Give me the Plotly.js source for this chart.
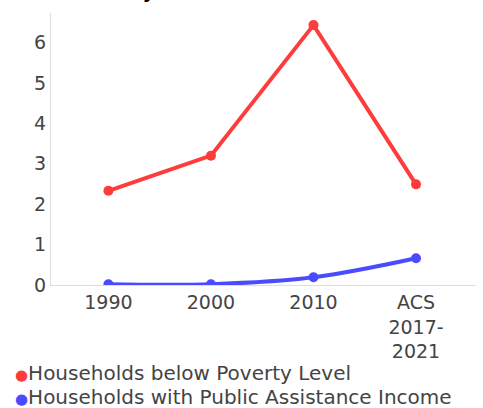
<!DOCTYPE html>
<html>
<head>
<meta charset="utf-8">
<script src="https://cdn.plot.ly/plotly-3.0.1.min.js"></script>
<style>html,body{margin:0;padding:0;background:#fff;}#chart{width:483px;height:408px;}</style>
</head>
<body>
<div id="chart"></div>
<script>
const categories = ['1990', '2000', '2010', 'ACS<br>2017-<br>2021'];
const povertyName = 'Households below Poverty Level';
const povertyValues = [2.33, 3.2, 6.43, 2.49];
const assistanceName = 'Households with Public Assistance Income';
const assistanceValues = [0.02, 0.02, 0.19, 0.66];
const yTicks = [0, 1, 2, 3, 4, 5, 6];

const red = '#ff3c3c';
const blue = '#4a4aff';
const textColor = '#444';
const fontFamily = 'DejaVu Sans, sans-serif';

const traces = [
  {x: categories, y: povertyValues, name: povertyName, type: 'scatter', mode: 'lines+markers',
   line: {color: red, width: 4}, marker: {color: red, size: 10}, showlegend: false},
  {x: categories, y: assistanceValues, name: assistanceName, type: 'scatter', mode: 'lines+markers',
   line: {color: blue, width: 4, shape: 'spline'}, marker: {color: blue, size: 10}, showlegend: false}
];

const legendItems = [[povertyName, red], [assistanceName, blue]];
const annotations = legendItems.map((it, i) => ({
  text: '<span style="color:' + it[1] + ';font-size:15px">●</span>' + it[0],
  xref: 'paper', yref: 'paper', x: -0.09, y: -0.322 - i * 0.09,
  xanchor: 'left', yanchor: 'middle', showarrow: false,
  font: {family: fontFamily, size: 20, color: textColor}
}));

const layout = {
  width: 483, height: 408,
  margin: {l: 51, r: 7, t: 13, b: 123},
  paper_bgcolor: '#fff', plot_bgcolor: '#fff',
  showlegend: false,
  title: {text: '<b>Poverty</b>', font: {family: fontFamily, size: 18, color: '#000'},
          xref: 'container', yref: 'container', x: 0.32, xanchor: 'right', y: 1.0, yanchor: 'bottom', pad: {b: 2}},
  font: {family: fontFamily, size: 19, color: textColor},
  xaxis: {type: 'category', range: [-0.56, 3.585], showgrid: false, zeroline: false,
          showline: true, linecolor: '#ddd', linewidth: 1, ticks: '', tickfont: {size: 19, color: textColor}},
  yaxis: {range: [0, 6.73], tickvals: yTicks, showgrid: false, zeroline: false,
          showline: true, linecolor: '#ddd', linewidth: 1, ticks: '', tickfont: {size: 19, color: textColor}},
  annotations: annotations
};

Plotly.newPlot('chart', traces, layout, {displayModeBar: false, staticPlot: true});
</script>
</body>
</html>
